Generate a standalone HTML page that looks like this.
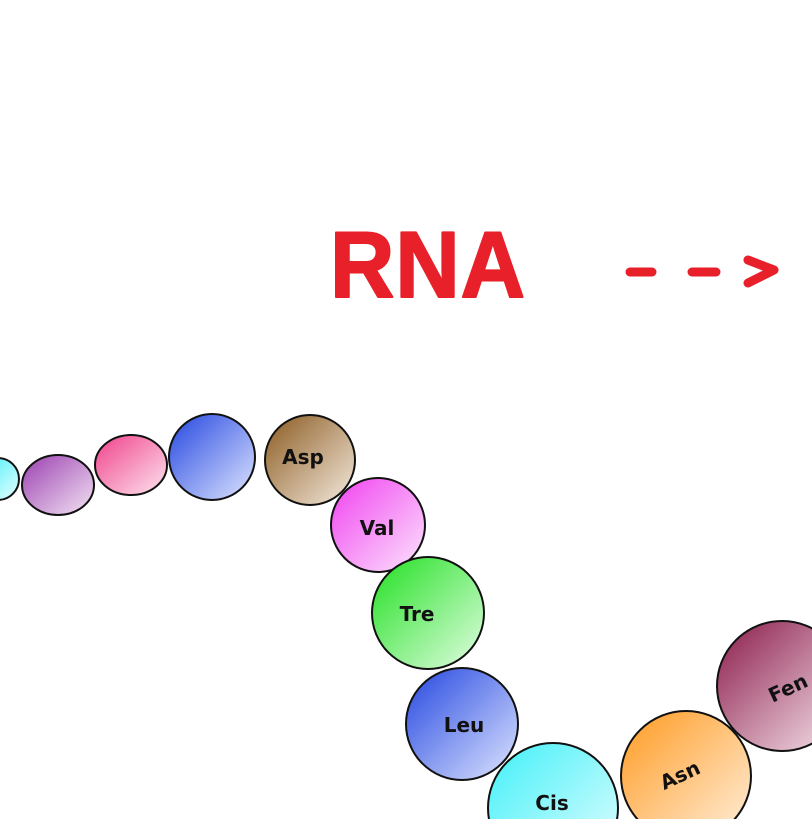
<!DOCTYPE html>
<html><head><meta charset="utf-8"><style>
html,body{margin:0;padding:0;background:#fff;width:812px;height:819px;overflow:hidden}
svg{display:block;overflow:hidden}
.lbl{font-family:"DejaVu Sans","Liberation Sans",sans-serif;font-weight:bold;font-size:20px;fill:#111;text-anchor:middle;dominant-baseline:central}
</style></head><body>
<svg width="812" height="819" viewBox="0 0 812 819" xmlns="http://www.w3.org/2000/svg">
<defs>
<linearGradient id="gCy" x1="0" y1="0" x2="1" y2="1"><stop offset="0" stop-color="#3ff0f8"/><stop offset="1" stop-color="#e8feff"/></linearGradient>
<linearGradient id="gPu" x1="0" y1="0" x2="1" y2="1"><stop offset="0" stop-color="#9a3fb0"/><stop offset="1" stop-color="#f4e6f4"/></linearGradient>
<linearGradient id="gPk" x1="0" y1="0" x2="1" y2="1"><stop offset="0" stop-color="#f0408a"/><stop offset="1" stop-color="#fde6f0"/></linearGradient>
<linearGradient id="gBl" x1="0" y1="0" x2="1" y2="1"><stop offset="0" stop-color="#2446e0"/><stop offset="1" stop-color="#dfe6ff"/></linearGradient>
<linearGradient id="gBr" x1="0" y1="0" x2="1" y2="1"><stop offset="0" stop-color="#8a5a20"/><stop offset="1" stop-color="#f6ece0"/></linearGradient>
<linearGradient id="gMg" x1="0" y1="0" x2="1" y2="1"><stop offset="0" stop-color="#f040f0"/><stop offset="1" stop-color="#fde6fd"/></linearGradient>
<linearGradient id="gGr" x1="0" y1="0" x2="1" y2="1"><stop offset="0" stop-color="#20e020"/><stop offset="1" stop-color="#e4fde4"/></linearGradient>
<linearGradient id="gOr" x1="0" y1="0" x2="1" y2="1"><stop offset="0" stop-color="#ff9a20"/><stop offset="1" stop-color="#fff0de"/></linearGradient>
<linearGradient id="gMr" x1="0" y1="0" x2="1" y2="1"><stop offset="0" stop-color="#8a1a4a"/><stop offset="1" stop-color="#f8e8ee"/></linearGradient>
</defs>
<text x="428" y="297" font-family="Liberation Sans,sans-serif" font-weight="bold" font-size="94" fill="#e8202a" text-anchor="middle" stroke="#e8202a" stroke-width="2" stroke-linejoin="round" letter-spacing="1" textLength="196" lengthAdjust="spacingAndGlyphs">RNA</text>
<g stroke="#e8202a" stroke-width="9" stroke-linecap="round" stroke-linejoin="round" fill="none">
<line x1="630" y1="272" x2="652" y2="272"/>
<line x1="692" y1="272" x2="716" y2="272"/>
<polyline points="748,260 774,270 748,283"/>
</g>
<g stroke="#111" stroke-width="2">
<circle cx="-2" cy="479" r="21" fill="url(#gCy)"/>
<ellipse cx="58" cy="485" rx="36" ry="30" fill="url(#gPu)"/>
<ellipse cx="131" cy="465" rx="36" ry="30" fill="url(#gPk)"/>
<circle cx="212" cy="457" r="43" fill="url(#gBl)"/>
<circle cx="310" cy="460" r="45" fill="url(#gBr)"/>
<circle cx="378" cy="525" r="47" fill="url(#gMg)"/>
<circle cx="428" cy="613" r="56" fill="url(#gGr)"/>
<circle cx="462" cy="724" r="56" fill="url(#gBl)"/>
<circle cx="553" cy="808" r="65" fill="url(#gCy)"/>
<circle cx="686" cy="776" r="65" fill="url(#gOr)"/>
<circle cx="782" cy="686" r="65" fill="url(#gMr)"/>
</g>
<text class="lbl" x="303" y="457">Asp</text>
<text class="lbl" x="377" y="528">Val</text>
<text class="lbl" x="417" y="614">Tre</text>
<text class="lbl" x="464" y="725">Leu</text>
<text class="lbl" x="552" y="803">Cis</text>
<text class="lbl" x="680" y="775" transform="rotate(-25 680 775)">Asn</text>
<text class="lbl" x="788" y="688" transform="rotate(-25 788 688)">Fen</text>
</svg>
</body></html>
